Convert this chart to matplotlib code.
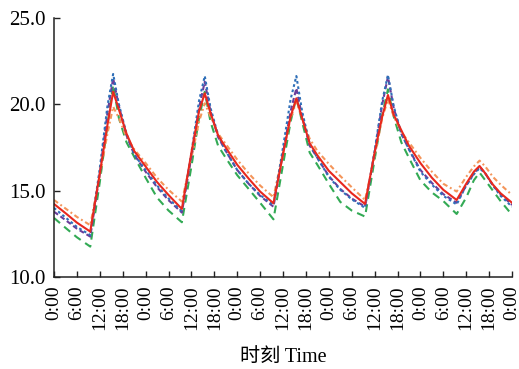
import matplotlib
matplotlib.use("Agg")
import matplotlib.pyplot as plt

# time in hours from start (5 days)
day_hours = [0, 3, 6, 9.5, 12, 14, 15.5, 17, 19, 21]
hours = [24 * d + h for d in range(5) for h in day_hours] + [120]

red = [14.23, 13.70, 13.15, 12.63, 16.0, 18.8, 20.73, 19.7, 18.3, 17.3,
       16.4, 15.5, 14.75, 13.94, 17.2, 19.6, 20.64, 19.5, 18.2, 17.5,
       16.5, 15.7, 14.95, 14.27, 17.1, 19.3, 20.35, 19.2, 17.74, 17.05,
       16.15, 15.5, 14.85, 14.23, 17.2, 19.3, 20.54, 19.4, 18.5, 17.6,
       16.6, 15.75, 15.05, 14.46, 15.4, 16.1, 16.43, 16.0, 15.35, 14.85,
       14.3]
orange = [14.46, 13.97, 13.48, 13.0, 15.9, 18.3, 19.86, 19.2, 18.1, 17.4,
          16.6, 15.75, 15.05, 14.37, 16.9, 19.0, 20.06, 19.3, 18.3, 17.7,
          16.8, 16.0, 15.3, 14.62, 17.2, 19.2, 20.15, 19.2, 18.0, 17.3,
          16.55, 15.85, 15.2, 14.46, 17.0, 19.2, 20.29, 19.3, 18.4, 17.8,
          16.9, 16.1, 15.4, 14.95, 15.8, 16.4, 16.74, 16.4, 15.8, 15.35,
          14.75]
green = [13.42, 12.85, 12.3, 11.76, 15.5, 18.8, 21.12, 19.2, 17.8, 16.97,
         15.75, 14.6, 13.85, 13.17, 16.4, 19.2, 20.73, 19.0, 17.6, 16.9,
         15.9, 15.1, 14.3, 13.34, 16.5, 19.0, 20.41, 19.0, 17.2, 16.5,
         15.4, 14.35, 13.85, 13.5, 16.8, 19.4, 20.87, 19.3, 17.8, 16.9,
         15.6, 14.9, 14.4, 13.65, 14.6, 15.6, 16.05, 15.6, 15.0, 14.4,
         13.6]
purple = [13.78, 13.3, 12.8, 12.34, 16.0, 19.5, 21.51, 19.9, 18.2, 17.1,
          16.1, 15.2, 14.45, 13.73, 17.0, 19.8, 21.31, 19.6, 18.1, 17.3,
          16.2, 15.4, 14.7, 14.07, 17.2, 19.6, 20.93, 19.3, 17.6, 16.9,
          15.85, 15.1, 14.55, 14.07, 17.2, 20.0, 21.6, 19.8, 18.3, 17.4,
          16.2, 15.45, 14.8, 14.3, 15.3, 16.0, 16.39, 16.0, 15.3, 14.8,
          14.17]
blue = [14.0, 13.45, 12.9, 12.43, 16.3, 19.9, 21.76, 20.0, 18.3, 17.1,
        16.2, 15.3, 14.55, 13.8, 17.2, 20.2, 21.64, 19.8, 18.2, 17.3,
        16.2, 15.4, 14.75, 14.16, 17.5, 20.3, 21.64, 19.6, 17.7, 16.9,
        15.8, 15.05, 14.5, 14.0, 17.3, 20.2, 21.7, 19.9, 18.3, 17.4,
        16.1, 15.35, 14.7, 14.2, 15.3, 15.95, 16.3, 16.0, 15.3, 14.7,
        14.07]

xtick_pos = list(range(0, 121, 6))
xtick_labels = ["0:00", "6:00", "12:00", "18:00"] * 5 + ["0:00"]
ytick_pos = [10, 15, 20, 25]
ytick_labels = ["10.0", "15.0", "20.0", "25.0"]

plt.rcParams['font.family'] = ['Liberation Serif', 'Noto Sans CJK SC', 'DejaVu Sans']

fig = plt.figure(figsize=(5.19, 3.69), dpi=100)
ax = fig.add_axes([54 / 519, 1 - 277 / 369, 458 / 519, 259 / 369])

lw = 1.5
ax.plot(hours, green, color='#33aa55', lw=lw, dashes=(3.8, 2.6))
ax.plot(hours, orange, color='#f4955a', lw=lw, dashes=(2.4, 1.4, 0.9, 1.4))
ax.plot(hours, purple, color='#6a3d9a', lw=lw, dashes=(2.4, 1.4))
ax.plot(hours, blue, color='#2f6fb8', lw=lw, dashes=(1.3, 1.3))
ax.plot(hours, red, color='#e8281e', lw=lw)

ax.set_xlim(0, 120)
ax.set_ylim(10, 25)
ax.set_xticks(xtick_pos)
ax.set_xticklabels(xtick_labels, rotation=90, fontsize=14)
ax.set_yticks(ytick_pos)
ax.set_yticklabels(ytick_labels, fontsize=15)
ax.tick_params(direction='in', length=4, width=1, color='#222222', pad=6)
for s in ['top', 'right']:
    ax.spines[s].set_visible(False)
for s in ['left', 'bottom']:
    ax.spines[s].set_linewidth(1.1)
    ax.spines[s].set_color('#222222')

ax.set_xlabel("时刻 Time", fontsize=14.5, labelpad=13)

fig.savefig("out.png", dpi=100)
